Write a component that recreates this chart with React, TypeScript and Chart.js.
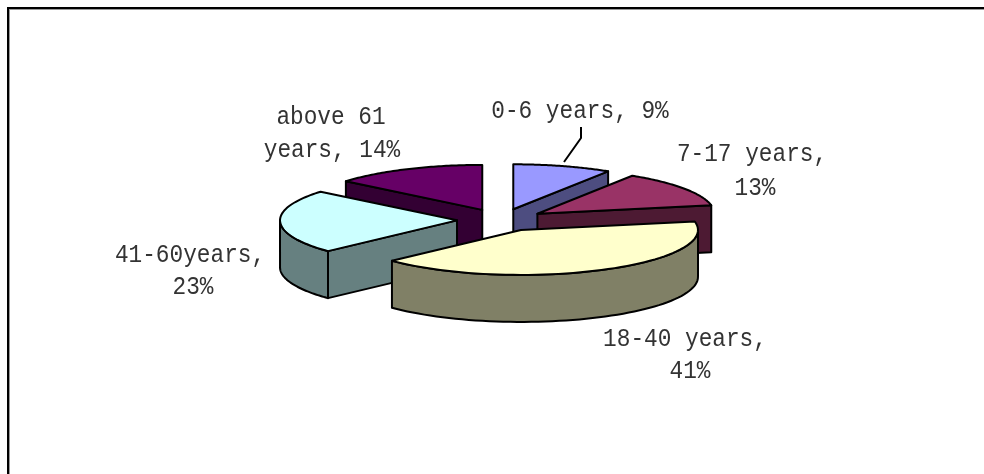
import React, { useEffect, useRef } from "react";
import { Chart, registerables } from "chart.js";

Chart.register(...registerables);

const categories = ["0-6 years", "7-17 years", "18-40 years", "41-60years", "above 61"];
const shares = [9, 13, 41, 23, 14];
const faceColors = ["#9999FF", "#993366", "#FFFFCC", "#CCFFFF", "#660066"];
const wallColors = ["#4D4D80", "#4D1A33", "#808066", "#668080", "#330033"];
const paintOrder = [4, 0, 1, 3, 2];

// Label text per category, with the anchor of the first line, line step and second-line shift
const labelLines = [
  ["0-6 years, 9%"],
  ["7-17 years,", "13%"],
  ["18-40 years,", "41%"],
  ["41-60years,", "23%"],
  ["above 61", "years, 14%"],
];
const labelAnchors = [
  [580, 118, 0, 0],
  [752, 161, 34, 3],
  [685, 346, 32, 5],
  [190, 262, 32, 3],
  [331, 124, 33, 1],
];

const TILT = 0.254;
const DEPTH = 47;
const EXPLODE = 44;
const LINE = 2;

const pie3d = {
  id: "pie3d",
  beforeDatasetsDraw(chart: any) {
    const ctx: CanvasRenderingContext2D = chart.ctx;
    const arcs = chart.getDatasetMeta(0).data;
    const project = (a: any, angle: number, r: number, drop = 0) => {
      const mid = (a.startAngle + a.endAngle) / 2;
      return [
        a.x + Math.cos(mid) * EXPLODE + Math.cos(angle) * r,
        a.y + (Math.sin(mid) * EXPLODE + Math.sin(angle) * r) * TILT + drop,
      ];
    };
    const finish = (fill: string) => {
      ctx.closePath();
      ctx.fillStyle = fill;
      ctx.fill();
      ctx.lineWidth = LINE;
      ctx.strokeStyle = "#000";
      ctx.lineJoin = "round";
      ctx.stroke();
    };
    const cutWall = (a: any, angle: number, fill: string) => {
      const p0 = project(a, angle, 0);
      const p1 = project(a, angle, a.outerRadius);
      ctx.beginPath();
      ctx.moveTo(p0[0], p0[1]);
      ctx.lineTo(p1[0], p1[1]);
      ctx.lineTo(p1[0], p1[1] + DEPTH);
      ctx.lineTo(p0[0], p0[1] + DEPTH);
      finish(fill);
    };
    paintOrder.forEach((i) => {
      const a = arcs[i];
      const s = a.startAngle;
      const e = a.endAngle;
      const wall = wallColors[i];
      if (-Math.cos(s) > 0.001) cutWall(a, s, wall);
      if (Math.cos(e) > 0.001) cutWall(a, e, wall);
      const from = Math.max(s, 0);
      const to = Math.min(e, Math.PI);
      if (to > from) {
        ctx.beginPath();
        const N = 60;
        for (let k = 0; k <= N; k++) {
          const p = project(a, from + ((to - from) * k) / N, a.outerRadius);
          k === 0 ? ctx.moveTo(p[0], p[1]) : ctx.lineTo(p[0], p[1]);
        }
        for (let k = N; k >= 0; k--) {
          const p = project(a, from + ((to - from) * k) / N, a.outerRadius, DEPTH);
          ctx.lineTo(p[0], p[1]);
        }
        finish(wall);
      }
      // top face: the library's arc element, squashed into the tilt plane
      const mid = (s + e) / 2;
      ctx.save();
      ctx.translate(a.x, a.y);
      ctx.scale(1, TILT);
      ctx.translate(-a.x, -a.y);
      ctx.translate(Math.cos(mid) * EXPLODE, Math.sin(mid) * EXPLODE);
      a.draw(ctx);
      ctx.restore();
      // outline at an even width
      ctx.beginPath();
      const c = project(a, s, 0);
      ctx.moveTo(c[0], c[1]);
      const N = 60;
      for (let k = 0; k <= N; k++) {
        const p = project(a, s + ((e - s) * k) / N, a.outerRadius);
        ctx.lineTo(p[0], p[1]);
      }
      ctx.closePath();
      ctx.lineWidth = LINE;
      ctx.strokeStyle = "#000";
      ctx.lineJoin = "round";
      ctx.stroke();
    });
    return false;
  },
  afterDraw(chart: any) {
    const ctx: CanvasRenderingContext2D = chart.ctx;
    // frame: top and left rules only
    ctx.fillStyle = "#000";
    ctx.fillRect(7, 7, 977, 2);
    ctx.fillRect(7, 7, 2, 467);
    ctx.fillStyle = "#999";
    ctx.fillRect(9, 9, 975, 1);
    ctx.fillRect(9, 9, 1, 465);
    // leader line
    ctx.beginPath();
    ctx.moveTo(581, 127);
    ctx.lineTo(581, 138);
    ctx.lineTo(564, 162);
    ctx.lineWidth = 2;
    ctx.strokeStyle = "#000";
    ctx.stroke();
    // labels
    ctx.fillStyle = "#333";
    ctx.textAlign = "center";
    ctx.textBaseline = "alphabetic";
    ctx.font = '25px "Liberation Mono"';
    labelLines.forEach((lines, i) => {
      const [x, y, step, shift] = labelAnchors[i];
      lines.forEach((line, j) => {
        ctx.save();
        ctx.translate(x + j * shift, y + j * step);
        ctx.scale(0.91, 1);
        ctx.fillText(line, 0, 0);
        ctx.restore();
      });
    });
  },
};

export default function App() {
  const ref = useRef<HTMLCanvasElement>(null);
  useEffect(() => {
    const chart = new Chart(ref.current!, {
      type: "pie",
      data: {
        labels: categories,
        datasets: [
          {
            data: shares,
            backgroundColor: faceColors,
            borderWidth: 0,
            radius: 177,
          } as any,
        ],
      },
      options: {
        responsive: false,
        animation: false,
        devicePixelRatio: 1,
        layout: { padding: { left: 18, right: 0, top: 0, bottom: 34 } },
        plugins: { legend: { display: false }, tooltip: { enabled: false } },
      },
      plugins: [pie3d as any],
    });
    return () => chart.destroy();
  }, []);
  return (
    <canvas
      ref={ref}
      width={984}
      height={474}
      style={{ position: "absolute", left: 0, top: 0, width: 984, height: 474, display: "block" }}
    />
  );
}
